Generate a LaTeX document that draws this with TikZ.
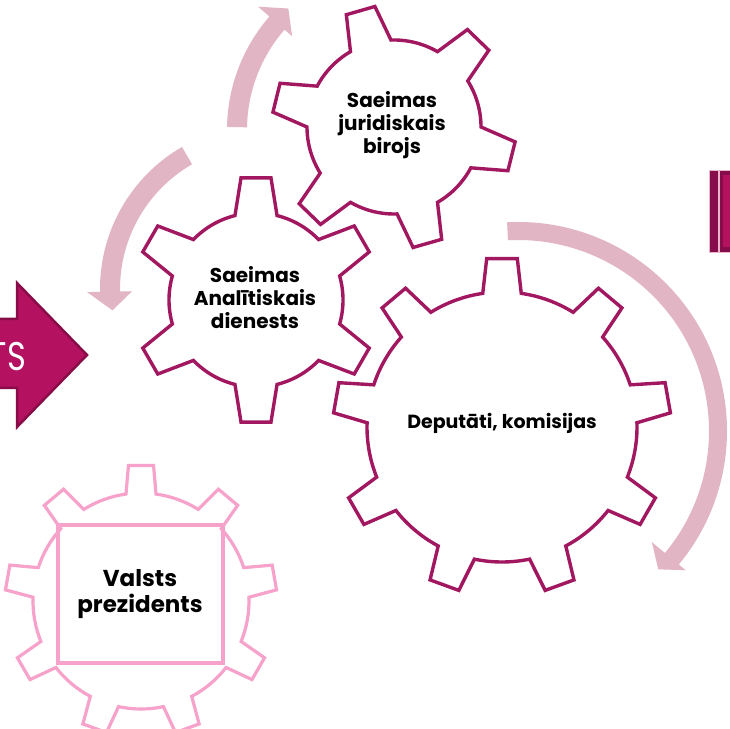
\documentclass[tikz,border=0pt]{standalone}
\usepackage{fontspec}
\setmainfont{Poppins}
\definecolor{gearc}{RGB}{162,24,96}
\definecolor{gearlight}{RGB}{246,162,202}
\definecolor{arrowc}{RGB}{226,181,196}
\definecolor{bigfill}{RGB}{180,18,96}
\definecolor{bigdraw}{RGB}{135,12,72}
\definecolor{bardark}{RGB}{135,12,75}
\definecolor{barlight}{RGB}{232,182,200}
\newcommand{\gearshape}[8]{%
  \pgfmathsetmacro{\gd}{360/#3}%
  \pgfmathtruncatemacro{\gn}{#3-1}%
  \draw[#1, shift={#2}] ({#6-#8}:#5pt)
    \foreach \i in {0,...,\gn} {
      -- ({#6+\i*\gd-#7}:#4pt) -- ({#6+\i*\gd+#7}:#4pt) -- ({#6+\i*\gd+#8}:#5pt)
      arc[start angle={#6+\i*\gd+#8}, end angle={#6+(\i+1)*\gd-#8}, radius=#5pt]
    } -- cycle;
}
% #1 center, #2 ri, #3 ro, #4 start, #5 head base, #6 wing in, #7 wing out, #8 tip angle, #9 tip r
\newcommand{\circarrow}[9]{%
  \fill[arrowc, shift={#1}] ({#4}:#3pt) arc[start angle=#4, end angle=#5, radius=#3pt]
    -- ({#5}:#7pt) -- ({#8}:#9pt) -- ({#5}:#6pt) -- ({#5}:#2pt)
    arc[start angle=#5, end angle=#4, radius=#2pt] -- cycle;
}
\tikzset{
  gearmain/.style={draw=gearc, line width=3.4pt, fill=white, line join=miter},
  gearpale/.style={draw=gearlight, line width=3.2pt, fill=white, line join=miter},
  lbl/.style={align=center, text=black, inner sep=0pt, font=\bfseries\fontsize{20}{23}\selectfont},
}
\begin{document}
\begin{tikzpicture}[x=1pt,y=1pt]
\useasboundingbox (0,0) rectangle (730,728);
\clip (0,0) rectangle (730,728);
\fill[white] (0,0) rectangle (730,728);

% curved arrows
\circarrow{(518pt,297pt)}{191}{209}{93}{-39.7}{174}{218}{-44.6}{197}
\circarrow{(400pt,598pt)}{153}{173}{179}{139}{143}{188}{132.6}{165}
\circarrow{(264pt,439pt)}{144}{164}{120}{181}{132}{177}{188}{153}

% big left arrow
\draw[fill=bigfill, draw=bigdraw, line width=2.5pt, line join=miter]
  (-10,409) -- (17,409) -- (17,445) -- (87,373) -- (17,301) -- (17,340) -- (-10,340) -- cycle;
\node[anchor=base east, inner sep=0pt, text=white, font=\fontsize{40}{40}\selectfont] (ts) at (26,357) {\scalebox{0.8}[1]{TS}};

% right bars
\fill[bardark] (709,476) rectangle (718,558);
\draw[barlight, line width=0.8pt] (709,476) rectangle (718,558);
\fill[bardark] (719,476) rectangle (731,558);
\draw[barlight, line width=0.8pt] (719,476) rectangle (731,558);
\fill[bigfill] (723,481) rectangle (731,553);

% gears
\gearshape{gearpale}{(141pt,127pt)}{9}{136}{108}{90}{5.3}{8}
\draw[draw=gearlight, line width=3.2pt] (58,65) rectangle (223,203);
\gearshape{gearmain}{(502pt,301pt)}{9}{169}{135}{90}{5.2}{8.2}
\gearshape{gearmain}{(256pt,428pt)}{6}{123}{87}{90}{7}{14}
\gearshape{gearmain}{(394pt,601pt)}{6}{122}{87}{46}{7}{14}

% labels
\node[lbl] (jur) at (392,603) {Saeimas\\juridiskais\\birojs};
\node[lbl] (anal) at (255,430) {Saeimas\\Analītiskais\\dienests};
\node[lbl, font=\bfseries\fontsize{19}{23}\selectfont] (dep) at (502,305) {Deputāti, komisijas};
\node[lbl, font=\bfseries\fontsize{23}{26}\selectfont] (pres) at (140,134) {Valsts\\prezidents};
\end{tikzpicture}
\end{document}
